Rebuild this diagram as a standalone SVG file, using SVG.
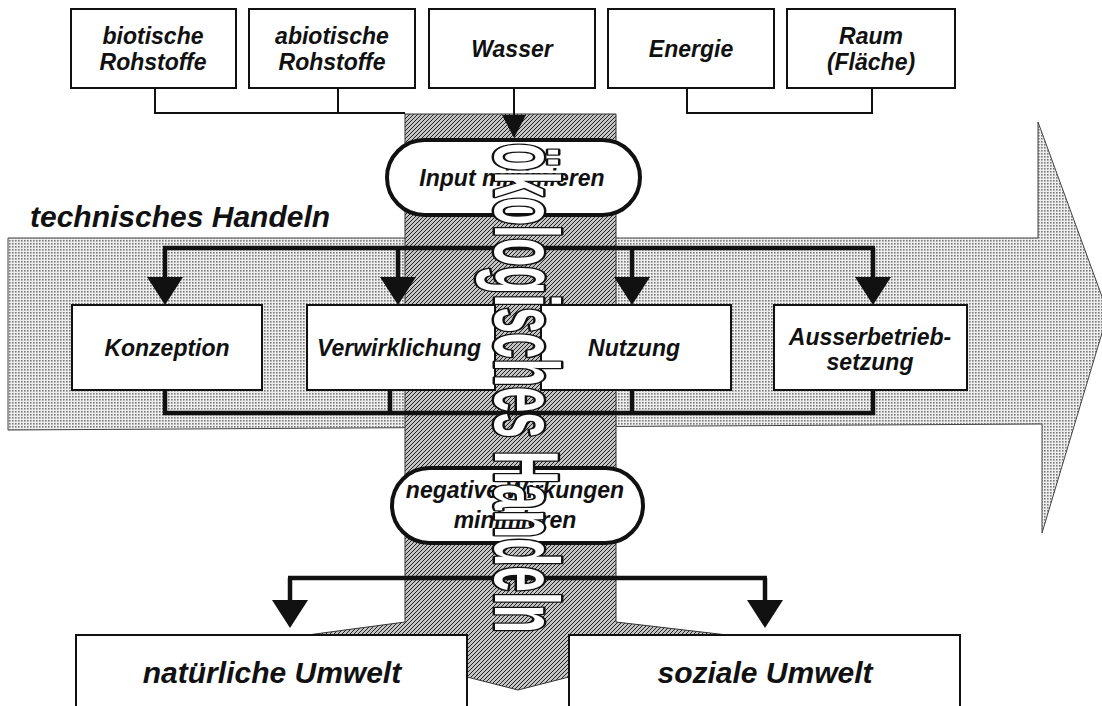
<svg xmlns="http://www.w3.org/2000/svg" width="1102" height="706" viewBox="0 0 1102 706">
<defs>
<pattern id="dots" patternUnits="userSpaceOnUse" width="3" height="3">
<rect width="3" height="3" fill="#eeeeee"/>
<rect width="1.6" height="1.6" fill="#7a7a7a"/>
</pattern>
<pattern id="hatch" patternUnits="userSpaceOnUse" width="4" height="4">
<rect width="4" height="4" fill="#c4c4c4"/>
<path d="M-1,1 L1,-1 M0,4 L4,0 M3,5 L5,3" stroke="#222" stroke-width="1"/>
</pattern>
<marker id="ah" viewBox="0 0 28 36" refX="0" refY="18" markerWidth="28" markerHeight="36" markerUnits="userSpaceOnUse" orient="auto">
<path d="M0,0 L28,18 L0,36 z" fill="#111"/>
</marker>
<marker id="ahs" viewBox="0 0 23 24" refX="0" refY="12" markerWidth="23" markerHeight="24" markerUnits="userSpaceOnUse" orient="auto">
<path d="M0,0 L23,12 L0,24 z" fill="#111"/>
</marker>
<style>
.box{fill:#fff;stroke:#111;stroke-width:2}
.pill{fill:#fff;stroke:#111;stroke-width:4}
.lbl{font-family:"Liberation Sans",Arial,sans-serif;font-weight:bold;font-style:italic;font-size:23px;fill:#111;text-anchor:middle}
.big{font-size:30px}
.thin{fill:none;stroke:#111;stroke-width:2}
.thick{fill:none;stroke:#111;stroke-width:4.5}
.drop{stroke:#111;stroke-width:4.5;marker-end:url(#ah)}
.vt{font-family:"Liberation Sans",Arial,sans-serif;font-weight:bold;font-size:90px;fill:#fff;stroke:#111;stroke-width:5;paint-order:stroke;stroke-linejoin:round}
</style>
</defs>
<rect width="1102" height="706" fill="#fff"/>

<g id="technisches-handeln">
<polygon points="8,238 1038,238 1038,122 1108,313 1042,533 1042,424 8,430" fill="url(#dots)" stroke="#444" stroke-width="1"/>
<text class="lbl big" x="30" y="227" style="text-anchor:start">technisches Handeln</text>
</g>

<g id="oekologisches-band">
<polygon points="405,114 616,114 616,622 770,640 569,640 569,677 518,690 467,677 467,640 270,640 405,622" fill="url(#hatch)" stroke="#333" stroke-width="1"/>
</g>

<g id="connectors">
<polyline class="thin" points="155,88 155,113 405,113"/>
<line class="thin" x1="338" y1="88" x2="338" y2="113"/>
<polyline class="thin" points="687,88 687,113 872,113 872,88"/>
<line x1="514" y1="88" x2="514" y2="115" stroke="#111" stroke-width="2" marker-end="url(#ahs)"/>
<line class="thick" x1="163" y1="248" x2="875" y2="248"/>
<line class="drop" x1="165" y1="248" x2="165" y2="277"/>
<line class="drop" x1="398" y1="248" x2="398" y2="277"/>
<line class="drop" x1="632" y1="248" x2="632" y2="277"/>
<line class="drop" x1="873" y1="248" x2="873" y2="277"/>
<polyline class="thick" points="165,390 165,413 873,413 873,390"/>
<line class="thick" x1="390" y1="390" x2="390" y2="413"/>
<line class="thick" x1="632" y1="390" x2="632" y2="413"/>
<line class="thick" x1="288" y1="578" x2="767" y2="578"/>
<line class="drop" x1="290" y1="578" x2="290" y2="600"/>
<line class="drop" x1="765" y1="578" x2="765" y2="600"/>
</g>

<g id="biotische-rohstoffe">
<rect class="box" x="71" y="9" width="165" height="79"/>
<text class="lbl" x="153" y="44">biotische</text>
<text class="lbl" x="153" y="70">Rohstoffe</text>
</g>
<g id="abiotische-rohstoffe">
<rect class="box" x="249" y="9" width="166" height="79"/>
<text class="lbl" x="332" y="44">abiotische</text>
<text class="lbl" x="332" y="70">Rohstoffe</text>
</g>
<g id="wasser">
<rect class="box" x="429" y="9" width="166" height="79"/>
<text class="lbl" x="512" y="57">Wasser</text>
</g>
<g id="energie">
<rect class="box" x="608" y="9" width="166" height="79"/>
<text class="lbl" x="691" y="57">Energie</text>
</g>
<g id="raum">
<rect class="box" x="787" y="9" width="168" height="79"/>
<text class="lbl" x="871" y="44">Raum</text>
<text class="lbl" x="871" y="70">(Fläche)</text>
</g>

<g id="konzeption">
<rect class="box" x="72" y="305" width="190" height="85"/>
<text class="lbl" x="167" y="356">Konzeption</text>
</g>
<g id="verwirklichung">
<rect class="box" x="307" y="305" width="188" height="85"/>
<text class="lbl" x="399" y="356">Verwirklichung</text>
</g>
<g id="nutzung">
<rect class="box" x="541" y="305" width="190" height="85"/>
<text class="lbl" x="634" y="356">Nutzung</text>
</g>
<g id="ausserbetriebsetzung">
<rect class="box" x="774" y="305" width="193" height="85"/>
<text class="lbl" x="870" y="345">Ausserbetrieb-</text>
<text class="lbl" x="870" y="370">setzung</text>
</g>

<g id="input-minimieren">
<rect class="pill" x="387" y="140" width="253" height="75" rx="37.5"/>
<text class="lbl" x="512" y="186">Input minimieren</text>
</g>
<g id="negative-wirkungen">
<rect class="pill" x="392" y="468" width="251" height="75" rx="37.5"/>
<text class="lbl" x="515" y="498">negative Wirkungen</text>
<text class="lbl" x="515" y="528">minimieren</text>
</g>

<g id="natuerliche-umwelt">
<rect class="box" x="76" y="635" width="391" height="90"/>
<text class="lbl big" x="272" y="683">natürliche Umwelt</text>
</g>
<g id="soziale-umwelt">
<rect class="box" x="569" y="635" width="391" height="90"/>
<text class="lbl big" x="765" y="683">soziale Umwelt</text>
</g>

<g id="oekologisches-handeln-label">
<text class="vt" transform="translate(495,143) rotate(90)" x="0" y="0" textLength="490" lengthAdjust="spacingAndGlyphs">ökologisches Handeln</text>
</g>
</svg>
